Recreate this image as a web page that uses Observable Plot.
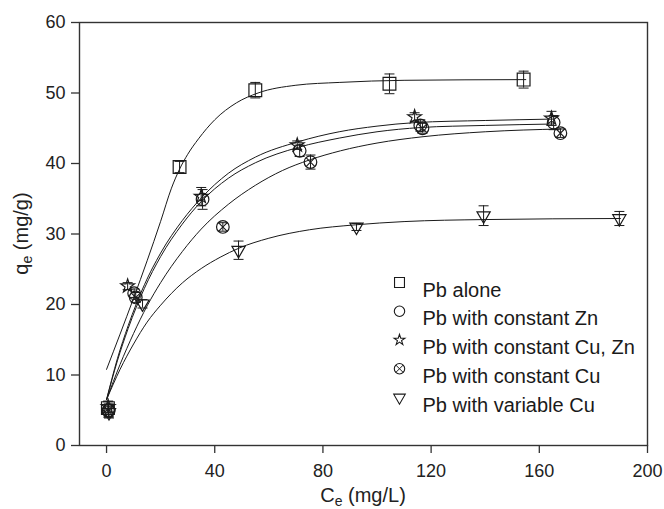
<!DOCTYPE html>
<html><head><meta charset="utf-8">
<script src="https://cdn.jsdelivr.net/npm/d3@7"></script>
<script src="https://cdn.jsdelivr.net/npm/@observablehq/plot@0.6"></script>
<style>body{margin:0;background:#fff} #chart svg{display:block}</style>
</head><body><div id="chart"></div>
<script>
// ---- data ----
const seriesNames = ["Pb alone", "Pb with constant Zn", "Pb with constant Cu, Zn", "Pb with constant Cu", "Pb with variable Cu"];
const xTicks = [0, 40, 80, 120, 160, 200];
const yTicks = [0, 10, 20, 30, 40, 50, 60];

// measured points (Ce, qe, error)
const aloneCe = [0.5, 27, 55, 104.6, 154.2];
const aloneQe = [5.3, 39.5, 50.4, 51.3, 51.9];
const aloneErr = [0.9, 0.8, 1.1, 1.4, 1.2];

const znCe = [0.8, 10.2, 35.5, 71.4, 116, 165.3];
const znQe = [5.0, 21.6, 34.9, 41.8, 45.4, 45.8];
const znErr = [0.9, 0.6, 1.4, 0.8, 0.8, 1.0];

const cuznCe = [0.6, 7.8, 35, 70.5, 113.9, 164.5];
const cuznQe = [5.5, 22.6, 35.3, 42.6, 46.6, 46.4];
const cuznErr = [0.8, 0.5, 1.3, 0.6, 0.6, 1.0];

const cuCe = [0.7, 10.8, 43, 75.4, 116.8, 167.8];
const cuQe = [4.9, 21.0, 31.0, 40.2, 45.0, 44.3];
const cuErr = [0.9, 0.7, 0.6, 1.0, 0.7, 0.6];

const varCe = [0.9, 13.3, 48.8, 92.4, 139.4, 189.6];
const varQe = [4.7, 20.1, 27.7, 31.0, 32.6, 32.2];
const varErr = [0.8, 0.6, 1.3, 0.5, 1.4, 1.0];

// fitted curves
const aloneFitCe = [0, 5, 10, 15, 20, 24, 27, 30, 34, 40, 48, 56, 70, 86, 110, 155];
const aloneFitQe = [10.8, 15.8, 20.9, 26.2, 31.8, 36.5, 39.2, 41.3, 43.5, 46.2, 48.6, 50.0, 51.1, 51.5, 51.8, 51.9];

const znFitCe = [0, 4, 8, 14, 20, 28, 35, 45, 55, 71, 86, 100, 116, 140, 165];
const znFitQe = [6.5, 12.0, 16.6, 22.3, 26.8, 31.4, 34.6, 37.9, 40.1, 42.3, 43.6, 44.5, 45.1, 45.4, 45.6];

const cuznFitCe = [0, 4, 8, 14, 20, 28, 35, 45, 55, 71, 86, 100, 114, 140, 165];
const cuznFitQe = [6.5, 12.3, 17.0, 22.8, 27.3, 31.9, 35.1, 38.6, 40.9, 43.1, 44.5, 45.3, 45.8, 46.1, 46.3];

const cuFitCe = [0, 5, 10, 15, 20, 28, 35, 45, 55, 65, 75, 86.5, 100, 117, 140, 168];
const cuFitQe = [6.5, 11.5, 15.9, 19.8, 23.1, 27.5, 30.7, 34.2, 36.9, 39.0, 40.5, 41.8, 42.9, 43.8, 44.5, 44.9];

const varFitCe = [0, 5, 10, 15, 20, 28, 35, 42, 49, 60, 75, 92, 110, 140, 190];
const varFitQe = [6.5, 10.8, 14.4, 17.5, 19.9, 23.05, 25.1, 26.7, 28.0, 29.4, 30.6, 31.3, 31.76, 32.05, 32.2];

// ---- tables ----
const rows = (series, xs, ys, es) => xs.map((x, i) => ({series, x, y: ys[i], e: es ? es[i] : 0}));
const points = [
  ...rows(seriesNames[0], aloneCe, aloneQe, aloneErr),
  ...rows(seriesNames[1], znCe, znQe, znErr),
  ...rows(seriesNames[2], cuznCe, cuznQe, cuznErr),
  ...rows(seriesNames[3], cuCe, cuQe, cuErr),
  ...rows(seriesNames[4], varCe, varQe, varErr)
];
const fits = [
  ...rows(seriesNames[0], aloneFitCe, aloneFitQe),
  ...rows(seriesNames[1], znFitCe, znFitQe),
  ...rows(seriesNames[2], cuznFitCe, cuznFitQe),
  ...rows(seriesNames[3], cuFitCe, cuFitQe),
  ...rows(seriesNames[4], varFitCe, varFitQe)
];

const ink = "#1a1a1a";
const capSymbol = {draw(ctx, size) { const w = Math.sqrt(size / Math.PI); ctx.moveTo(-w, 0); ctx.lineTo(w, 0); }};
const styleOf = [
  {symbol: "square", r: 7.2, lr: 5.6},
  {symbol: "circle", r: 6.3, lr: 5.2},
  {symbol: "star", r: 4.3, lr: 3.4},
  {symbol: "circle", r: 6.3, lr: 5.2, cross: true},
  {symbol: "triangle", r: 4.9, lr: 4.3, rotate: 180}
];

const marks = [
  Plot.line(fits, {x: "x", y: "y", z: "series", curve: "monotone-x", stroke: ink, strokeWidth: 1}),
  Plot.ruleX(points, {x: "x", y1: d => d.y - d.e, y2: d => d.y + d.e, stroke: ink, strokeWidth: 1}),
  Plot.dot(points, {x: "x", y: d => d.y + d.e, symbol: capSymbol, r: 5, stroke: ink, strokeWidth: 1}),
  Plot.dot(points, {x: "x", y: d => d.y - d.e, symbol: capSymbol, r: 5, stroke: ink, strokeWidth: 1})
];
seriesNames.forEach((name, i) => {
  const s = styleOf[i];
  const data = points.filter(d => d.series === name);
  marks.push(Plot.dot(data, {x: "x", y: "y", symbol: s.symbol, r: s.r, rotate: s.rotate || 0, fill: "none", stroke: ink, strokeWidth: 1.2}));
  if (s.cross) marks.push(Plot.dot(data, {x: "x", y: "y", symbol: "times", r: 4.1, stroke: ink, strokeWidth: 1.1}));
  // legend row
  const dy = 260 + i * 28.75;
  marks.push(Plot.dot([name], {frameAnchor: "top-left", dx: 320, dy, symbol: s.symbol, r: s.lr, rotate: s.rotate || 0, fill: "none", stroke: ink, strokeWidth: 1.1}));
  if (s.cross) marks.push(Plot.dot([name], {frameAnchor: "top-left", dx: 320, dy, symbol: "times", r: 3.4, stroke: ink, strokeWidth: 1}));
  marks.push(Plot.text([name], {text: d => d, frameAnchor: "top-left", dx: 343, dy, textAnchor: "start", fontSize: 20, fill: ink}));
});
marks.push(
  Plot.frame({stroke: "#333", strokeWidth: 1.4}),
  Plot.axisX({ticks: xTicks, tickSize: 8, tickPadding: 11, fontSize: 18, label: null, stroke: "#333", strokeWidth: 1.3}),
  Plot.axisY({ticks: yTicks, tickSize: 8, tickPadding: 6, fontSize: 18, label: null, stroke: "#333", strokeWidth: 1.3})
);

const plot = Plot.plot({
  width: 664, height: 509,
  marginLeft: 79, marginRight: 17, marginTop: 22, marginBottom: 64,
  x: {domain: [-10, 200]},
  y: {domain: [0, 60]},
  style: {fontFamily: "'Liberation Sans', Arial, sans-serif", color: "#222", background: "white", overflow: "visible"},
  marks
});
document.getElementById("chart").append(plot);

// axis titles with subscripts
const svg = d3.select(plot);
const xr = plot.scale("x").range, yr = plot.scale("y").range;
const xl = svg.append("text").attr("x", (xr[0] + xr[1]) / 2).attr("y", 502)
  .attr("text-anchor", "middle").attr("font-size", 20).attr("fill", "#222");
xl.append("tspan").text("C");
xl.append("tspan").attr("dy", 4).attr("font-size", 14).text("e");
xl.append("tspan").attr("dy", -4).text(" (mg/L)");
const yl = svg.append("text").attr("transform", `translate(28,${(yr[0] + yr[1]) / 2}) rotate(-90)`)
  .attr("text-anchor", "middle").attr("font-size", 20).attr("fill", "#222");
yl.append("tspan").text("q");
yl.append("tspan").attr("dy", 4).attr("font-size", 14).text("e");
yl.append("tspan").attr("dy", -4).text(" (mg/g)");
</script></body></html>
